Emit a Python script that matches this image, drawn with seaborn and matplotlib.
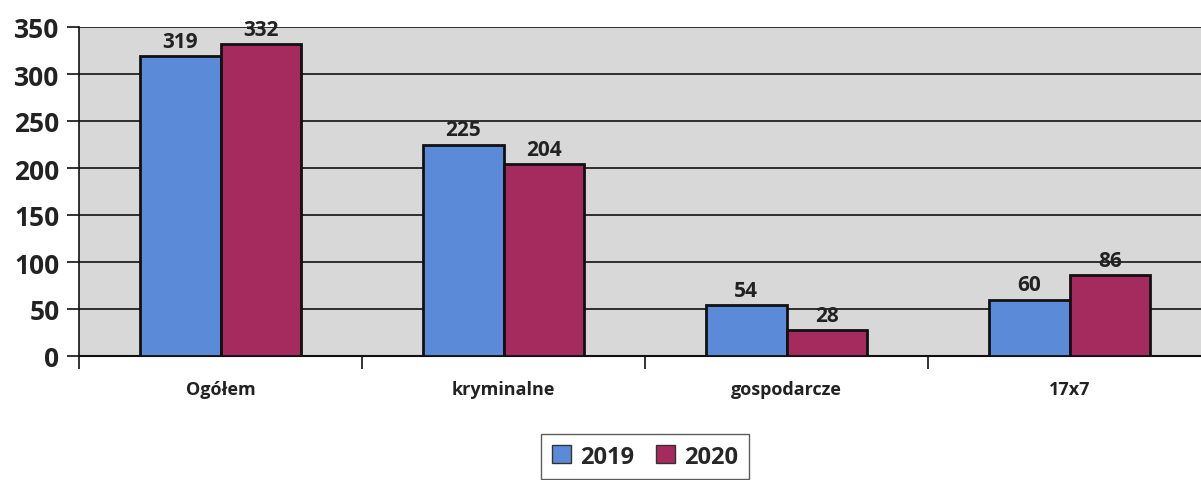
import matplotlib
matplotlib.use("Agg")
import matplotlib.pyplot as plt
import seaborn as sns
import pandas as pd
import numpy as np
from matplotlib.patches import Patch

categories = ["Ogółem", "kryminalne", "gospodarcze", "17x7"]
values_2019 = [319, 225, 54, 60]
values_2020 = [332, 204, 28, 86]
series = ["2019", "2020"]
yticks = [0, 50, 100, 150, 200, 250, 300, 350]

df = pd.DataFrame({
    "cat": categories * 2,
    "val": values_2019 + values_2020,
    "year": [series[0]] * 4 + [series[1]] * 4,
})

sns.set_style("white")
plt.rcParams['font.family'] = ['Open Sans', 'DejaVu Sans']

fig = plt.figure(figsize=(12.01, 4.81), dpi=100)
ax = fig.add_axes([79 / 1201, 1 - 357 / 481, 1132 / 1201, 329 / 481])
ax.set_facecolor("#d8d8d8")

palette = {"2019": "#5a8ad8", "2020": "#a52a5e"}
sns.barplot(data=df, x="cat", y="val", hue="year", palette=palette,
            width=0.57, edgecolor="#111111", linewidth=2, saturation=1,
            ax=ax, zorder=3, legend=False)

ax.set_ylim(0, 350)
ax.set_xlim(-0.5, 3.5)
ax.set_yticks(yticks)
ax.set_yticklabels([str(t) for t in yticks], fontsize=19, fontweight="bold", color="#222222")
ax.grid(axis="y", color="#111111", linewidth=1.2, zorder=1)
ax.set_axisbelow(True)
ax.tick_params(axis="y", length=9, width=1.2, color="#111111", pad=5, left=True)
ax.set_xticks(range(len(categories)))
ax.set_xticklabels(categories, fontsize=13, fontweight="bold", color="#222222")
ax.tick_params(axis="x", length=0, pad=17)
ax.set_xticks(np.arange(-0.5, 4.0, 1.0), minor=True)
ax.tick_params(axis="x", which="minor", length=9, width=1.2, color="#111111", bottom=True)
ax.set_xlabel("")
ax.set_ylabel("")
for s in ["top", "right"]:
    ax.spines[s].set_visible(False)
ax.spines["left"].set_color("#111111")
ax.spines["left"].set_linewidth(1.2)
ax.spines["bottom"].set_color("#111111")
ax.spines["bottom"].set_linewidth(1.5)

for cont in ax.containers:
    ax.bar_label(cont, fmt="%d", fontsize=15, fontweight="bold", color="#222222", padding=3)

handles = [Patch(facecolor=palette[s], edgecolor="#333333", label=s) for s in series]
leg = fig.legend(handles=handles, loc="upper center", bbox_to_anchor=(645 / 1201, 1 - 435 / 481),
                 ncol=2, frameon=True, fancybox=False, prop={"size": 17, "weight": "bold"},
                 handlelength=0.8, handleheight=0.8, columnspacing=0.9, handletextpad=0.4,
                 borderpad=0.45, borderaxespad=0, edgecolor="#333333")
leg.get_frame().set_linewidth(1.0)

fig.savefig("out.png", dpi=100, facecolor="white")
